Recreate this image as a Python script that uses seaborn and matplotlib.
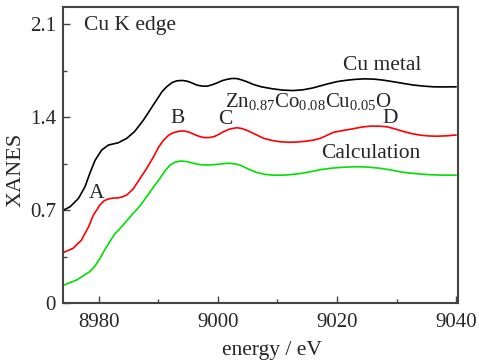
import numpy as np
import pandas as pd
import seaborn as sns
import matplotlib.pyplot as plt
from matplotlib.ticker import MultipleLocator, FuncFormatter

# Cu metal (black)
e_metal = [8974.0, 8975.2, 8976.6, 8977.7, 8978.5, 8979.4, 8980.5, 8981.6, 8983.3,
           8984.7, 8986.0, 8987.5, 8989.0, 8989.7, 8990.6, 8991.4, 8992.3, 8993.1,
           8994.0, 8994.8, 8995.6, 8996.5, 8997.4, 8998.2, 8999.0, 8999.8, 9000.7,
           9001.5, 9002.4, 9003.2, 9004.0, 9004.9, 9006.0, 9007.3, 9009.3, 9011.0,
           9012.6, 9014.2, 9015.8, 9017.2, 9018.6, 9020.0, 9021.5, 9023.0, 9024.6,
           9026.2, 9027.8, 9029.5, 9031.2, 9032.9, 9034.6, 9036.2, 9038.0, 9040.0]
x_metal = [0.697, 0.725, 0.788, 0.876, 0.976, 1.076, 1.152, 1.189, 1.207,
           1.240, 1.290, 1.377, 1.480, 1.528, 1.590, 1.628, 1.660, 1.673,
           1.676, 1.671, 1.658, 1.641, 1.633, 1.633, 1.643, 1.656, 1.674,
           1.684, 1.691, 1.690, 1.680, 1.666, 1.645, 1.628, 1.612, 1.603,
           1.600, 1.605, 1.618, 1.635, 1.652, 1.667, 1.677, 1.684, 1.688,
           1.686, 1.678, 1.666, 1.653, 1.641, 1.633, 1.628, 1.627, 1.628]

# Zn0.87Co0.08Cu0.05O (red)
e_sample = [8974.0, 8975.7, 8977.1, 8978.3, 8979.1, 8980.2, 8980.9, 8981.6, 8982.4,
            8983.3, 8984.0, 8984.7, 8985.8, 8986.9, 8988.0, 8989.2, 8990.0, 8990.9,
            8991.7, 8992.5, 8993.4, 8994.2, 8995.1, 8995.9, 8996.8, 8997.6, 8998.5,
            8999.3, 9000.1, 9000.9, 9002.0, 9003.2, 9004.0, 9004.9, 9006.3, 9007.7,
            9009.1, 9010.5, 9012.0, 9013.3, 9014.7, 9016.1, 9017.2, 9018.3, 9019.4,
            9021.1, 9022.8, 9024.2, 9025.6, 9027.0, 9028.4, 9029.8, 9031.2, 9032.6,
            9034.0, 9035.4, 9036.8, 9038.4, 9040.0]
x_sample = [0.379, 0.412, 0.474, 0.574, 0.662, 0.738, 0.770, 0.783, 0.790,
            0.792, 0.800, 0.813, 0.860, 0.935, 1.010, 1.101, 1.170, 1.227,
            1.262, 1.282, 1.293, 1.296, 1.288, 1.272, 1.256, 1.246, 1.246,
            1.252, 1.268, 1.289, 1.310, 1.320, 1.314, 1.300, 1.270, 1.240,
            1.224, 1.214, 1.211, 1.212, 1.218, 1.227, 1.240, 1.262, 1.285,
            1.300, 1.313, 1.325, 1.332, 1.332, 1.327, 1.310, 1.291, 1.275,
            1.264, 1.258, 1.256, 1.259, 1.265]

# Calculation (green)
e_calc = [8974.0, 8976.3, 8978.5, 8979.4, 8980.2, 8981.0, 8981.9, 8982.7, 8983.6,
          8985.3, 8986.9, 8988.2, 8989.3, 8990.3, 8991.2, 8992.0, 8992.8, 8993.7,
          8994.8, 8995.9, 8997.0, 8998.2, 8999.3, 9000.4, 9001.3, 9002.1, 9002.9,
          9003.7, 9004.5, 9005.4, 9006.6, 9008.0, 9009.5, 9011.0, 9012.5, 9014.0,
          9015.5, 9017.2, 9019.0, 9020.6, 9022.3, 9023.9, 9025.6, 9027.3, 9029.0,
          9030.6, 9032.3, 9034.0, 9035.7, 9037.4, 9040.0]
x_calc = [0.133, 0.173, 0.236, 0.280, 0.336, 0.400, 0.465, 0.520, 0.562,
          0.650, 0.730, 0.810, 0.880, 0.940, 1.000, 1.039, 1.060, 1.069,
          1.065, 1.052, 1.042, 1.039, 1.042, 1.046, 1.051, 1.052, 1.047,
          1.039, 1.022, 1.003, 0.982, 0.968, 0.962, 0.963, 0.968, 0.976,
          0.988, 1.004, 1.015, 1.021, 1.025, 1.026, 1.022, 1.014, 1.002,
          0.988, 0.978, 0.971, 0.966, 0.963, 0.963]

sns.set_style('ticks')
plt.rcParams['font.family'] = ['Liberation Serif', 'DejaVu Serif']
plt.rcParams['mathtext.fontset'] = 'custom'
plt.rcParams['mathtext.rm'] = 'Liberation Serif'
plt.rcParams['mathtext.it'] = 'Liberation Serif:italic'

fig = plt.figure(figsize=(4.79, 3.62), dpi=100)
ax = fig.add_axes([0.1315, 0.163, 0.8245, 0.818])

df = pd.concat([
    pd.DataFrame({'energy': e_metal, 'xanes': x_metal, 'curve': 'metal'}),
    pd.DataFrame({'energy': e_sample, 'xanes': x_sample, 'curve': 'sample'}),
    pd.DataFrame({'energy': e_calc, 'xanes': x_calc, 'curve': 'calc'}),
])
sns.lineplot(data=df, x='energy', y='xanes', hue='curve',
             palette={'metal': 'black', 'sample': '#ff0000', 'calc': '#00e000'},
             linewidth=1.2, legend=False, ax=ax)

ax.set_xlim(8974, 9040.3)
ax.set_ylim(0, 2.23)
ax.xaxis.set_major_locator(MultipleLocator(20))
ax.xaxis.set_minor_locator(MultipleLocator(10))
ax.yaxis.set_major_locator(MultipleLocator(0.7))
ax.yaxis.set_minor_locator(MultipleLocator(0.35))
ax.yaxis.set_major_formatter(FuncFormatter(lambda v, p: '0' if abs(v) < 1e-9 else f'{v:.1f}'))
ax.tick_params(which='both', direction='in', labelsize=15, color='#444444',
               top=False, right=False)
ax.tick_params(axis='y', pad=5)
ax.tick_params(axis='x', pad=7)
ax.tick_params(which='major', length=5, width=1)
ax.tick_params(which='minor', length=3, width=1)
for s in ax.spines.values():
    s.set_linewidth(1.5)
    s.set_color('#444444')

ax.set_xlabel('energy / eV', fontsize=15.5)
ax.set_ylabel('XANES', fontsize=16)
ax.xaxis.set_label_coords(0.529, -0.128)
ax.yaxis.set_label_coords(-0.096, 0.449)

fs = 15.5
ax.text(8977.5, 2.09, 'Cu K edge', fontsize=fs, ha='left', va='center')
ax.text(9027.6, 1.79, 'Cu metal', fontsize=fs, ha='center', va='center')
ax.text(9001.2, 1.478, r'Zn$_{0.87}$Co$_{0.08}$Cu$_{0.05}$O', fontsize=15, ha='left', va='baseline')
ax.text(8993.3, 1.39, 'B', fontsize=fs, ha='center', va='center')
ax.text(9001.2, 1.38, 'C', fontsize=fs, ha='center', va='center')
ax.text(9029.0, 1.39, 'D', fontsize=fs, ha='center', va='center')
ax.text(8979.7, 0.826, 'A', fontsize=fs, ha='center', va='center')
ax.text(9025.6, 1.127, 'Calculation', fontsize=fs, ha='center', va='center')

fig.savefig('out.png', dpi=100)
